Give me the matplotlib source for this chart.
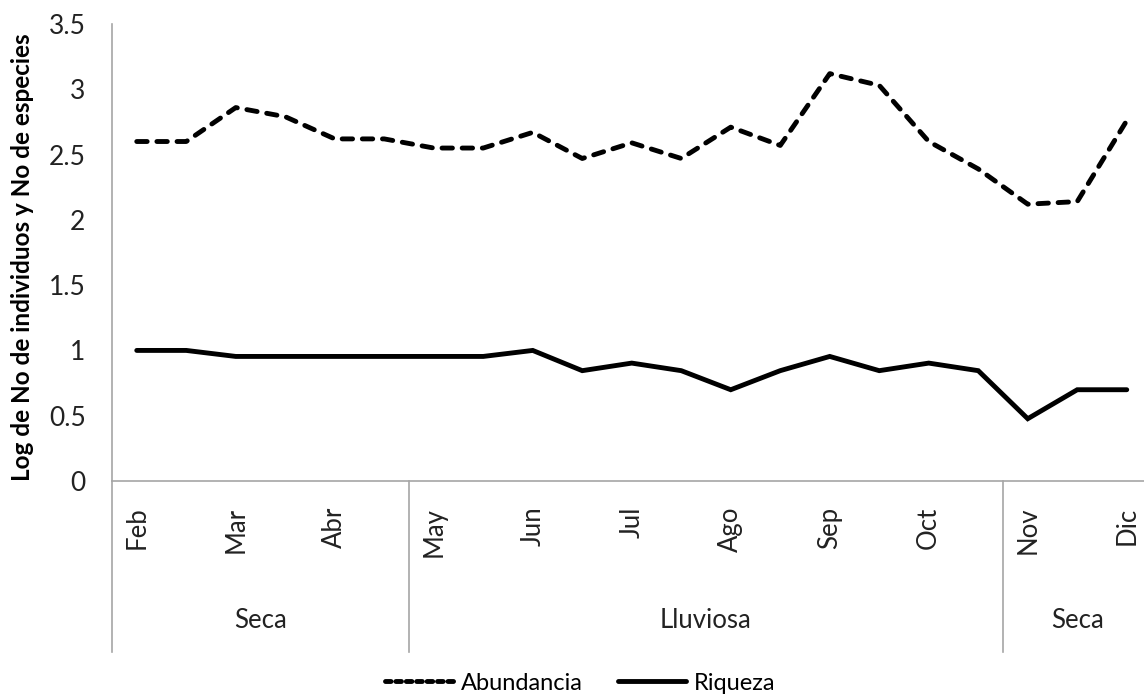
import matplotlib
matplotlib.use('Agg')
import matplotlib.pyplot as plt
import matplotlib.transforms as mtransforms
import numpy as np

# monthly samples (two per month, label on the first)
months = ['Feb', '', 'Mar', '', 'Abr', '', 'May', '', 'Jun', '', 'Jul', '',
          'Ago', '', 'Sep', '', 'Oct', '', 'Nov', '', 'Dic']
abundancia = [2.60, 2.60, 2.86, 2.79, 2.62, 2.62, 2.55, 2.55, 2.67, 2.47, 2.59,
              2.47, 2.71, 2.57, 3.12, 3.03, 2.60, 2.39, 2.12, 2.14, 2.76]
riqueza = [1.0, 1.0, 0.954, 0.954, 0.954, 0.954, 0.954, 0.954, 1.0, 0.845, 0.903,
           0.845, 0.699, 0.845, 0.954, 0.845, 0.903, 0.845, 0.477, 0.699, 0.699]
seasons = ['Seca', 'Lluviosa', 'Seca']
season_sizes = [6, 12, 3]

plt.rcParams['font.family'] = ['Lato', 'DejaVu Sans']
plt.rcParams['lines.scale_dashes'] = False
axis_grey = '#a6a6a6'
text_col = '#222222'

W, H = 1144, 695
fig = plt.figure(figsize=(W / 100, H / 100), dpi=100)
left, right, top, bottom = 112, 1151.5, 24, 481
ax = fig.add_axes([left / W, 1 - bottom / H, (right - left) / W, (bottom - top) / H])

x = np.arange(len(months))
ax.plot(x, abundancia, color='black', lw=3.5, dashes=(7.5, 7.0),
        dash_capstyle='round', label='Abundancia')
ax.plot(x, riqueza, color='black', lw=3.5, solid_capstyle='round',
        solid_joinstyle='miter', label='Riqueza')

ax.set_xlim(-0.5, len(months) - 0.5)
ax.set_ylim(0, 3.5)
ax.set_yticks(np.arange(0, 3.51, 0.5))
ax.set_yticklabels(['0', '0.5', '1', '1.5', '2', '2.5', '3', '3.5'])
ax.set_xticks(x)
ax.set_xticklabels(months, rotation=90)
ax.tick_params(axis='x', length=0, pad=18.5, labelsize=18.5, colors=text_col)
ax.tick_params(axis='y', length=0, pad=19, labelsize=19, colors=text_col)

for s in ['top', 'right']:
    ax.spines[s].set_visible(False)
for s in ['left', 'bottom']:
    ax.spines[s].set_color(axis_grey)
    ax.spines[s].set_linewidth(1.2)

ax.set_ylabel('Log de No de individuos y No de especies', fontsize=17.5,
              fontweight='bold')
ax.yaxis.set_label_coords(-78 / (right - left), 0.49)

# season brackets under the month labels
trans = mtransforms.blended_transform_factory(ax.transData, ax.transAxes)
depth = -(652 - bottom) / (bottom - top)
label_y = -(620 - bottom) / (bottom - top)
edges = np.concatenate([[0], np.cumsum(season_sizes)]) - 0.5
for e in edges:
    ax.plot([e, e], [0, depth], color=axis_grey, lw=1.2, transform=trans,
            clip_on=False)
for name, a, b in zip(seasons, edges[:-1], edges[1:]):
    ax.text((a + b) / 2, label_y, name, transform=trans, ha='center',
            va='center', fontsize=18.5, color=text_col)

leg = fig.legend(loc='center', bbox_to_anchor=(580 / W, 1 - 683 / H), ncol=2,
                 frameon=False, fontsize=17, handlelength=2.9,
                 handletextpad=0.3, columnspacing=1.5)
leg.get_lines()[0].set_dashes((4.0, 3.5))

fig.savefig('out.png', dpi=100, facecolor='white')
